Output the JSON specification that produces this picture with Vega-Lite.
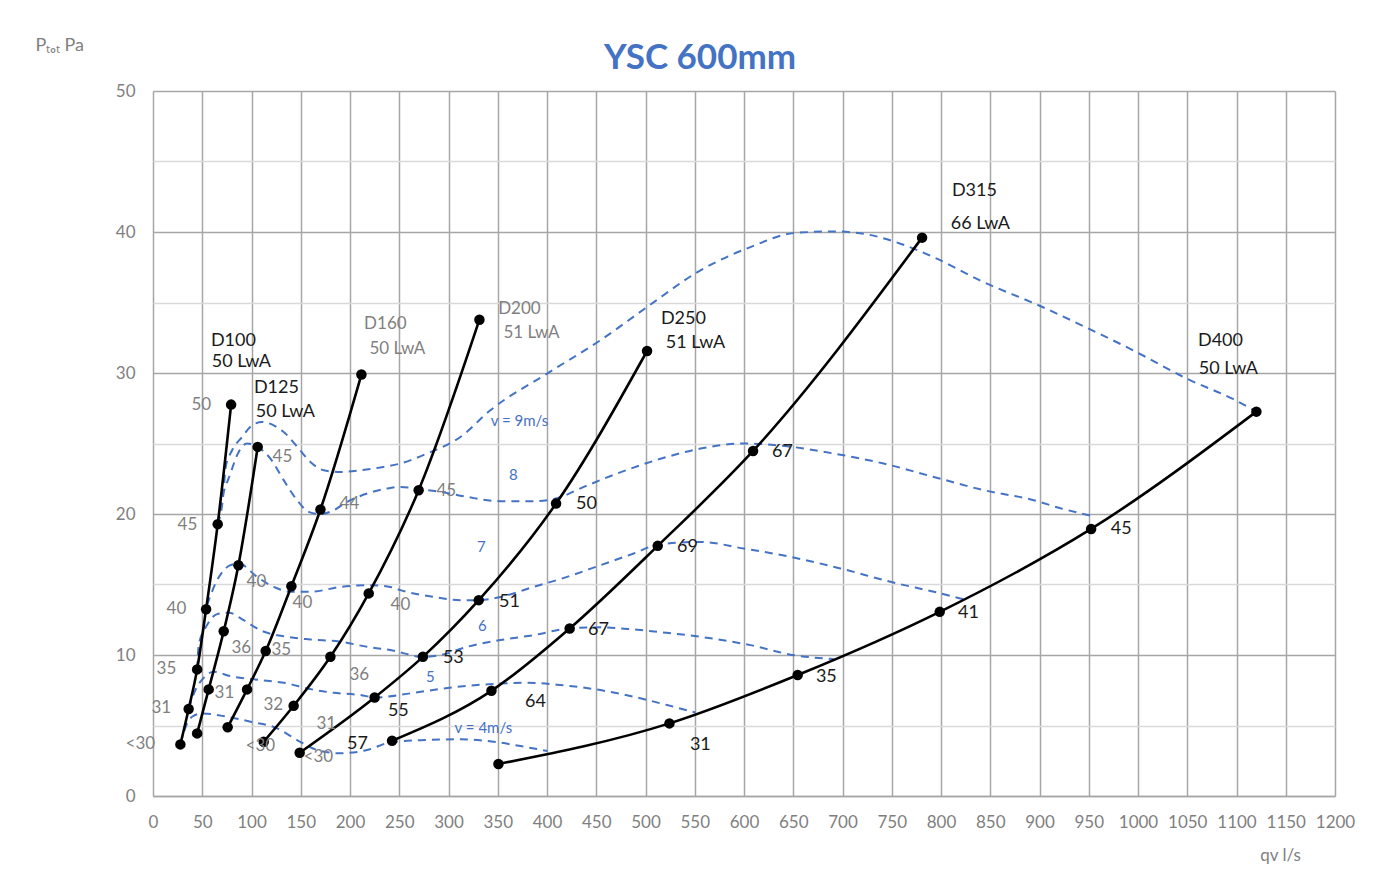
{
  "$schema": "https://vega.github.io/schema/vega-lite/v6.json",
  "width": 1182,
  "height": 705,
  "autosize": {"type": "none"},
  "padding": {"left": 153, "top": 91, "right": 52, "bottom": 89},
  "background": "white",
  "title": {
    "text": "YSC 600mm",
    "font": "Lato",
    "fontSize": 35,
    "fontWeight": "bold",
    "color": "#4472C4",
    "anchor": "middle",
    "dx": -44,
    "offset": -40
  },
  "datasets": {
    "ducts": [
      {"duct": "D100", "q": 27.8, "p": 3.66},
      {"duct": "D100", "q": 36.2, "p": 6.17},
      {"duct": "D100", "q": 44.8, "p": 8.98},
      {"duct": "D100", "q": 53.9, "p": 13.25},
      {"duct": "D100", "q": 65.7, "p": 19.28},
      {"duct": "D100", "q": 79.3, "p": 27.76},
      {"duct": "D125", "q": 44.8, "p": 4.44},
      {"duct": "D125", "q": 56.5, "p": 7.56},
      {"duct": "D125", "q": 71.8, "p": 11.69},
      {"duct": "D125", "q": 86.7, "p": 16.37},
      {"duct": "D125", "q": 106.3, "p": 24.76},
      {"duct": "D160", "q": 75.8, "p": 4.87},
      {"duct": "D160", "q": 95.5, "p": 7.56},
      {"duct": "D160", "q": 114.4, "p": 10.28},
      {"duct": "D160", "q": 140.5, "p": 14.88},
      {"duct": "D160", "q": 170.0, "p": 20.32},
      {"duct": "D160", "q": 211.6, "p": 29.89},
      {"duct": "D200", "q": 112.4, "p": 3.85},
      {"duct": "D200", "q": 142.8, "p": 6.4},
      {"duct": "D200", "q": 180.1, "p": 9.87},
      {"duct": "D200", "q": 219.0, "p": 14.37},
      {"duct": "D200", "q": 269.7, "p": 21.69},
      {"duct": "D200", "q": 331.4, "p": 33.78},
      {"duct": "D250", "q": 148.9, "p": 3.07},
      {"duct": "D250", "q": 225.0, "p": 6.99},
      {"duct": "D250", "q": 274.0, "p": 9.87},
      {"duct": "D250", "q": 330.7, "p": 13.89},
      {"duct": "D250", "q": 409.2, "p": 20.74},
      {"duct": "D250", "q": 501.6, "p": 31.56},
      {"duct": "D315", "q": 242.7, "p": 3.92},
      {"duct": "D315", "q": 343.6, "p": 7.46},
      {"duct": "D315", "q": 423.0, "p": 11.88},
      {"duct": "D315", "q": 512.4, "p": 17.74},
      {"duct": "D315", "q": 609.2, "p": 24.47},
      {"duct": "D315", "q": 780.8, "p": 39.6},
      {"duct": "D400", "q": 350.7, "p": 2.27},
      {"duct": "D400", "q": 524.3, "p": 5.15},
      {"duct": "D400", "q": 654.5, "p": 8.58},
      {"duct": "D400", "q": 798.7, "p": 13.06},
      {"duct": "D400", "q": 952.4, "p": 18.94},
      {"duct": "D400", "q": 1120.2, "p": 27.26}
    ],
    "velocity": [
      {"v": "9", "q": 65.7, "p": 19.28},
      {"v": "9", "q": 71.8, "p": 21.69},
      {"v": "9", "q": 73.5, "p": 23.22},
      {"v": "9", "q": 80.3, "p": 24.52},
      {"v": "9", "q": 90.5, "p": 25.46},
      {"v": "9", "q": 100.6, "p": 26.29},
      {"v": "9", "q": 110.8, "p": 26.53},
      {"v": "9", "q": 122.5, "p": 26.29},
      {"v": "9", "q": 134.4, "p": 25.71},
      {"v": "9", "q": 147.9, "p": 24.64},
      {"v": "9", "q": 159.8, "p": 23.69},
      {"v": "9", "q": 173.3, "p": 23.1},
      {"v": "9", "q": 190.3, "p": 22.98},
      {"v": "9", "q": 210.6, "p": 23.1},
      {"v": "9", "q": 230.9, "p": 23.3},
      {"v": "9", "q": 251.2, "p": 23.58},
      {"v": "9", "q": 278.3, "p": 24.29},
      {"v": "9", "q": 312.1, "p": 25.46},
      {"v": "9", "q": 342.5, "p": 27.36},
      {"v": "9", "q": 400.1, "p": 29.96},
      {"v": "9", "q": 454.2, "p": 32.32},
      {"v": "9", "q": 501.6, "p": 34.68},
      {"v": "9", "q": 555.8, "p": 37.28},
      {"v": "9", "q": 606.5, "p": 38.93},
      {"v": "9", "q": 650.2, "p": 39.92},
      {"v": "9", "q": 690.8, "p": 40.04},
      {"v": "9", "q": 725.0, "p": 39.83},
      {"v": "9", "q": 758.8, "p": 39.17},
      {"v": "9", "q": 792.3, "p": 38.22},
      {"v": "9", "q": 843.1, "p": 36.45},
      {"v": "9", "q": 897.6, "p": 34.85},
      {"v": "9", "q": 948.3, "p": 33.2},
      {"v": "9", "q": 995.3, "p": 31.6},
      {"v": "9", "q": 1049.8, "p": 29.59},
      {"v": "9", "q": 1096.9, "p": 28.14},
      {"v": "9", "q": 1120.2, "p": 27.26},
      {"v": "8", "q": 65.7, "p": 19.28},
      {"v": "8", "q": 68.4, "p": 20.5},
      {"v": "8", "q": 78.6, "p": 22.87},
      {"v": "8", "q": 87.0, "p": 24.4},
      {"v": "8", "q": 95.5, "p": 25.0},
      {"v": "8", "q": 106.3, "p": 24.76},
      {"v": "8", "q": 119.2, "p": 23.93},
      {"v": "8", "q": 132.7, "p": 22.4},
      {"v": "8", "q": 146.3, "p": 20.98},
      {"v": "8", "q": 158.1, "p": 20.15},
      {"v": "8", "q": 170.0, "p": 19.99},
      {"v": "8", "q": 183.5, "p": 20.27},
      {"v": "8", "q": 197.1, "p": 20.86},
      {"v": "8", "q": 217.4, "p": 21.45},
      {"v": "8", "q": 237.7, "p": 21.81},
      {"v": "8", "q": 251.2, "p": 21.92},
      {"v": "8", "q": 269.7, "p": 21.76},
      {"v": "8", "q": 291.8, "p": 21.57},
      {"v": "8", "q": 318.9, "p": 21.21},
      {"v": "8", "q": 352.7, "p": 20.91},
      {"v": "8", "q": 386.5, "p": 20.91},
      {"v": "8", "q": 409.2, "p": 21.1},
      {"v": "8", "q": 437.3, "p": 21.92},
      {"v": "8", "q": 471.2, "p": 22.87},
      {"v": "8", "q": 521.9, "p": 24.05},
      {"v": "8", "q": 555.8, "p": 24.64},
      {"v": "8", "q": 599.7, "p": 25.0},
      {"v": "8", "q": 643.8, "p": 24.8},
      {"v": "8", "q": 691.1, "p": 24.29},
      {"v": "8", "q": 741.8, "p": 23.58},
      {"v": "8", "q": 792.6, "p": 22.63},
      {"v": "8", "q": 843.4, "p": 21.69},
      {"v": "8", "q": 894.1, "p": 20.98},
      {"v": "8", "q": 921.2, "p": 20.41},
      {"v": "8", "q": 956.7, "p": 19.81},
      {"v": "7", "q": 54.9, "p": 13.54},
      {"v": "7", "q": 63.4, "p": 15.07},
      {"v": "7", "q": 78.6, "p": 16.37},
      {"v": "7", "q": 87.0, "p": 16.49},
      {"v": "7", "q": 105.7, "p": 15.54},
      {"v": "7", "q": 122.5, "p": 14.83},
      {"v": "7", "q": 141.2, "p": 14.48},
      {"v": "7", "q": 159.8, "p": 14.48},
      {"v": "7", "q": 190.3, "p": 14.83},
      {"v": "7", "q": 219.0, "p": 14.95},
      {"v": "7", "q": 241.0, "p": 14.83},
      {"v": "7", "q": 251.2, "p": 14.6},
      {"v": "7", "q": 285.0, "p": 14.12},
      {"v": "7", "q": 312.1, "p": 13.89},
      {"v": "7", "q": 330.7, "p": 13.89},
      {"v": "7", "q": 352.7, "p": 14.12},
      {"v": "7", "q": 386.5, "p": 14.83},
      {"v": "7", "q": 420.4, "p": 15.54},
      {"v": "7", "q": 454.2, "p": 16.37},
      {"v": "7", "q": 488.0, "p": 17.2},
      {"v": "7", "q": 512.4, "p": 17.82},
      {"v": "7", "q": 555.8, "p": 18.02},
      {"v": "7", "q": 599.7, "p": 17.55},
      {"v": "7", "q": 647.1, "p": 16.96},
      {"v": "7", "q": 697.9, "p": 16.14},
      {"v": "7", "q": 748.7, "p": 15.19},
      {"v": "7", "q": 799.4, "p": 14.37},
      {"v": "7", "q": 823.1, "p": 13.94},
      {"v": "6", "q": 44.8, "p": 8.98},
      {"v": "6", "q": 46.4, "p": 10.7},
      {"v": "6", "q": 54.9, "p": 12.12},
      {"v": "6", "q": 65.1, "p": 12.9},
      {"v": "6", "q": 76.9, "p": 13.0},
      {"v": "6", "q": 92.1, "p": 12.47},
      {"v": "6", "q": 109.0, "p": 11.76},
      {"v": "6", "q": 136.1, "p": 11.29},
      {"v": "6", "q": 159.8, "p": 11.1},
      {"v": "6", "q": 190.3, "p": 10.94},
      {"v": "6", "q": 217.4, "p": 10.58},
      {"v": "6", "q": 241.0, "p": 10.35},
      {"v": "6", "q": 274.5, "p": 9.87},
      {"v": "6", "q": 291.8, "p": 9.99},
      {"v": "6", "q": 318.9, "p": 10.58},
      {"v": "6", "q": 352.7, "p": 11.06},
      {"v": "6", "q": 386.5, "p": 11.41},
      {"v": "6", "q": 423.0, "p": 11.89},
      {"v": "6", "q": 454.2, "p": 11.96},
      {"v": "6", "q": 488.0, "p": 11.81},
      {"v": "6", "q": 521.9, "p": 11.57},
      {"v": "6", "q": 555.8, "p": 11.29},
      {"v": "6", "q": 606.5, "p": 10.7},
      {"v": "6", "q": 650.5, "p": 9.99},
      {"v": "6", "q": 691.1, "p": 9.71},
      {"v": "5", "q": 36.2, "p": 6.17},
      {"v": "5", "q": 43.0, "p": 7.51},
      {"v": "5", "q": 51.2, "p": 8.36},
      {"v": "5", "q": 61.6, "p": 8.81},
      {"v": "5", "q": 78.6, "p": 8.5},
      {"v": "5", "q": 109.0, "p": 8.22},
      {"v": "5", "q": 136.1, "p": 7.99},
      {"v": "5", "q": 156.4, "p": 7.63},
      {"v": "5", "q": 183.5, "p": 7.32},
      {"v": "5", "q": 210.6, "p": 7.16},
      {"v": "5", "q": 225.8, "p": 6.99},
      {"v": "5", "q": 261.3, "p": 7.28},
      {"v": "5", "q": 295.1, "p": 7.63},
      {"v": "5", "q": 329.0, "p": 7.87},
      {"v": "5", "q": 379.8, "p": 8.03},
      {"v": "5", "q": 413.6, "p": 7.87},
      {"v": "5", "q": 454.2, "p": 7.51},
      {"v": "5", "q": 488.0, "p": 7.04},
      {"v": "5", "q": 521.9, "p": 6.45},
      {"v": "5", "q": 550.7, "p": 5.92},
      {"v": "4", "q": 27.8, "p": 3.66},
      {"v": "4", "q": 33.9, "p": 5.03},
      {"v": "4", "q": 39.7, "p": 5.62},
      {"v": "4", "q": 49.8, "p": 5.86},
      {"v": "4", "q": 75.2, "p": 5.62},
      {"v": "4", "q": 98.9, "p": 5.27},
      {"v": "4", "q": 126.0, "p": 4.8},
      {"v": "4", "q": 146.3, "p": 3.97},
      {"v": "4", "q": 166.6, "p": 3.26},
      {"v": "4", "q": 190.3, "p": 3.03},
      {"v": "4", "q": 217.4, "p": 3.26},
      {"v": "4", "q": 242.7, "p": 3.83},
      {"v": "4", "q": 278.3, "p": 3.97},
      {"v": "4", "q": 312.1, "p": 4.02},
      {"v": "4", "q": 345.9, "p": 3.85},
      {"v": "4", "q": 373.0, "p": 3.54},
      {"v": "4", "q": 400.4, "p": 3.19}
    ],
    "grayLabels": [
      {"t": "50", "q": 49.1, "p": 27.71},
      {"t": "45", "q": 34.9, "p": 19.2},
      {"t": "40", "q": 23.8, "p": 13.25},
      {"t": "35", "q": 13.6, "p": 8.99},
      {"t": "31", "q": 8.5, "p": 6.22},
      {"t": "<30", "q": -12.8, "p": 3.66},
      {"t": "45", "q": 131.4, "p": 24.03},
      {"t": "40", "q": 105.0, "p": 15.17},
      {"t": "36", "q": 89.7, "p": 10.49},
      {"t": "31", "q": 72.5, "p": 7.3},
      {"t": "44", "q": 199.4, "p": 20.69},
      {"t": "40", "q": 151.7, "p": 13.68},
      {"t": "35", "q": 130.3, "p": 10.35},
      {"t": "32", "q": 122.2, "p": 6.45},
      {"t": "45", "q": 297.8, "p": 21.62},
      {"t": "40", "q": 251.2, "p": 13.54},
      {"t": "36", "q": 209.5, "p": 8.58},
      {"t": "31", "q": 176.0, "p": 5.1},
      {"t": "<30", "q": 109.0, "p": 3.54},
      {"t": "<30", "q": 167.9, "p": 2.76}
    ],
    "blackLabels": [
      {"t": "57", "q": 207.5, "p": 3.69},
      {"t": "55", "q": 249.1, "p": 6.02},
      {"t": "53", "q": 304.9, "p": 9.78},
      {"t": "51", "q": 361.8, "p": 13.75},
      {"t": "50", "q": 440.0, "p": 20.69},
      {"t": "64", "q": 388.2, "p": 6.66},
      {"t": "67", "q": 452.2, "p": 11.76},
      {"t": "69", "q": 542.6, "p": 17.65},
      {"t": "67", "q": 639.0, "p": 24.38},
      {"t": "31", "q": 555.7, "p": 3.61},
      {"t": "35", "q": 683.6, "p": 8.43},
      {"t": "41", "q": 827.8, "p": 12.97},
      {"t": "45", "q": 983.0, "p": 18.92}
    ],
    "blueLabels": [
      {"t": "v = 9m/s", "q": 372.0, "p": 26.58},
      {"t": "8", "q": 365.9, "p": 22.75},
      {"t": "7", "q": 333.4, "p": 17.65},
      {"t": "6", "q": 334.4, "p": 12.05},
      {"t": "5", "q": 281.6, "p": 8.43},
      {"t": "v = 4m/s", "q": 335.4, "p": 4.82}
    ],
    "ductTitlesBlack": [
      {"t": "D100", "q": 81.6, "p": 32.25},
      {"t": "50 LwA", "q": 89.7, "p": 30.76},
      {"t": "D125", "q": 125.3, "p": 28.92},
      {"t": "50 LwA", "q": 134.4, "p": 27.21},
      {"t": "D250", "q": 538.5, "p": 33.81},
      {"t": "51 LwA", "q": 550.7, "p": 32.1},
      {"t": "D315", "q": 833.9, "p": 42.88},
      {"t": "66 LwA", "q": 840.0, "p": 40.55},
      {"t": "D400", "q": 1083.7, "p": 32.25},
      {"t": "50 LwA", "q": 1091.8, "p": 30.26}
    ],
    "ductTitlesGray": [
      {"t": "D160", "q": 235.9, "p": 33.45},
      {"t": "50 LwA", "q": 248.1, "p": 31.68},
      {"t": "D200", "q": 372.0, "p": 34.51},
      {"t": "51 LwA", "q": 384.2, "p": 32.81}
    ]
  },
  "encoding": {
    "x": {
      "field": "q",
      "type": "quantitative",
      "scale": {"domain": [0, 1200], "nice": false, "zero": false},
      "axis": {
        "values": [0, 50, 100, 150, 200, 250, 300, 350, 400, 450, 500, 550, 600, 650, 700, 750, 800, 850, 900, 950, 1000, 1050, 1100, 1150, 1200],
        "format": "d",
        "title": "qv l/s",
        "titleFont": "Lato",
        "titleFontSize": 17,
        "titleFontWeight": "normal",
        "titleColor": "#7f7f7f",
        "titleX": 1127,
        "titleY": 59,
        "titleAlign": "center",
        "titleBaseline": "middle",
        "titleAnchor": null,
        "labelFont": "Lato",
        "labelFontSize": 17,
        "labelColor": "#7f7f7f",
        "labelPadding": 18,
        "labelFlush": false,
        "labelOverlap": false,
        "ticks": false,
        "domain": true,
        "domainColor": "#a6a6a6",
        "domainWidth": 1.5,
        "grid": true,
        "gridColor": "#a6a6a6",
        "gridWidth": 1.5
      }
    },
    "y": {
      "field": "p",
      "type": "quantitative",
      "scale": {"domain": [0, 50], "nice": false, "zero": false},
      "axis": {
        "values": [0, 5, 10, 15, 20, 25, 30, 35, 40, 45, 50],
        "labelExpr": "datum.value % 10 === 0 ? datum.label : ''",
        "title": "Pₜₒₜ Pa",
        "titleFont": "Lato",
        "titleFontSize": 18,
        "titleFontWeight": "normal",
        "titleColor": "#7f7f7f",
        "titleAngle": 0,
        "titleAlign": "left",
        "titleBaseline": "middle",
        "titleX": -118,
        "titleY": -46,
        "labelFont": "Lato",
        "labelFontSize": 17,
        "labelColor": "#7f7f7f",
        "labelPadding": 18,
        "ticks": false,
        "domain": false,
        "grid": true,
        "gridColor": {"condition": {"test": "datum.value % 10 === 0", "value": "#a6a6a6"}, "value": "#d9d9d9"},
        "gridWidth": 1.5
      }
    }
  },
  "layer": [
    {
      "data": {"name": "velocity"},
      "mark": {"type": "line", "interpolate": "monotone", "color": "#4472C4", "strokeWidth": 2, "strokeDash": [8, 6]},
      "encoding": {"detail": {"field": "v", "type": "nominal"}}
    },
    {
      "data": {"name": "ducts"},
      "mark": {"type": "line", "interpolate": "monotone", "color": "#000000", "strokeWidth": 2.6},
      "encoding": {"detail": {"field": "duct", "type": "nominal"}}
    },
    {
      "data": {"name": "ducts"},
      "mark": {"type": "circle", "color": "#000000", "size": 110, "opacity": 1},
      "encoding": {}
    },
    {
      "data": {"name": "grayLabels"},
      "mark": {"type": "text", "font": "Lato", "fontSize": 17, "color": "#7f7f7f", "align": "center", "baseline": "middle"},
      "encoding": {"text": {"field": "t", "type": "nominal"}}
    },
    {
      "data": {"name": "blackLabels"},
      "mark": {"type": "text", "font": "Lato", "fontSize": 18, "color": "#1a1a1a", "align": "center", "baseline": "middle"},
      "encoding": {"text": {"field": "t", "type": "nominal"}}
    },
    {
      "data": {"name": "blueLabels"},
      "mark": {"type": "text", "font": "Lato", "fontSize": 15, "color": "#4472C4", "align": "center", "baseline": "middle"},
      "encoding": {"text": {"field": "t", "type": "nominal"}}
    },
    {
      "data": {"name": "ductTitlesBlack"},
      "mark": {"type": "text", "font": "Lato", "fontSize": 18, "color": "#1a1a1a", "align": "center", "baseline": "middle"},
      "encoding": {"text": {"field": "t", "type": "nominal"}}
    },
    {
      "data": {"name": "ductTitlesGray"},
      "mark": {"type": "text", "font": "Lato", "fontSize": 17, "color": "#7f7f7f", "align": "center", "baseline": "middle"},
      "encoding": {"text": {"field": "t", "type": "nominal"}}
    }
  ],
  "config": {
    "view": {"stroke": null}
  }
}
